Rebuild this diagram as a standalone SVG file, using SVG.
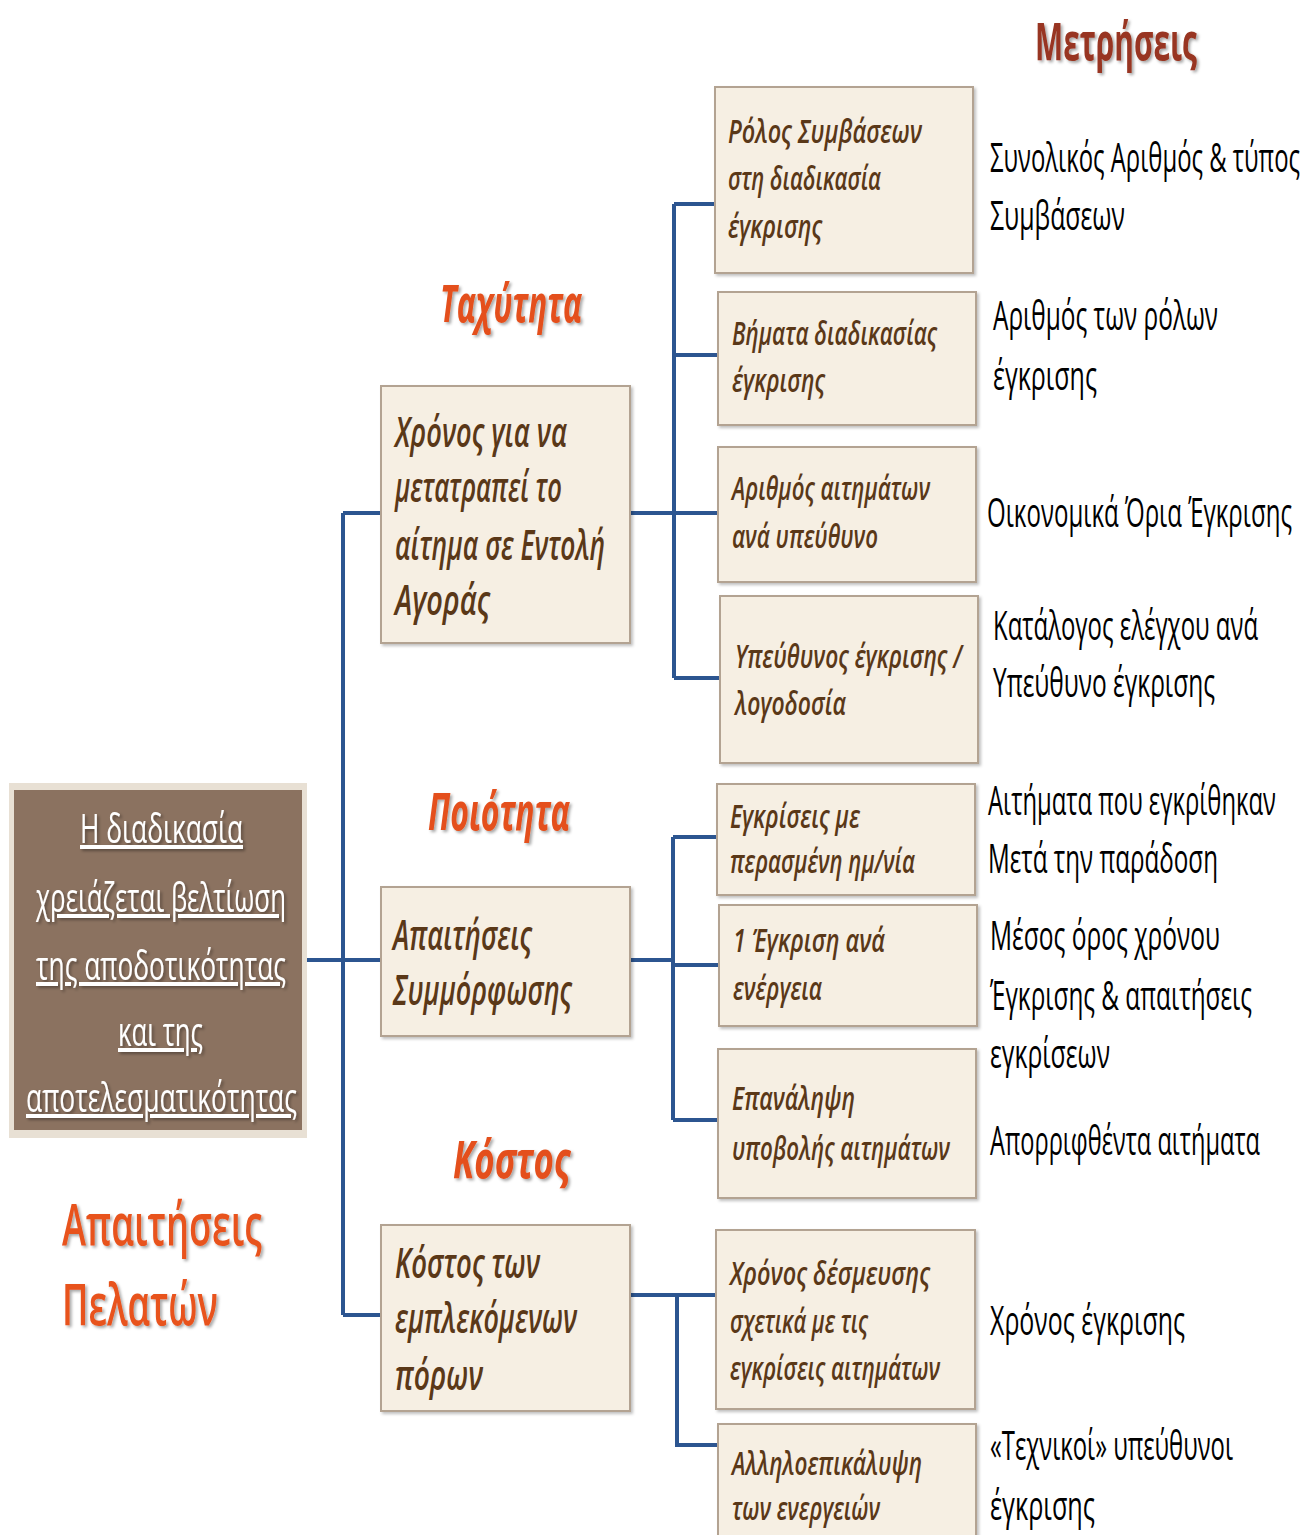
<svg xmlns="http://www.w3.org/2000/svg" width="1316" height="1535" viewBox="0 0 1316 1535">
<defs>
<filter id="sh" x="-10%" y="-10%" width="130%" height="130%">
<feDropShadow dx="2" dy="2" stdDeviation="1.5" flood-color="#000" flood-opacity="0.35"/>
</filter>
<filter id="bsh" x="-5%" y="-5%" width="115%" height="115%">
<feDropShadow dx="2" dy="2" stdDeviation="1.5" flood-color="#000" flood-opacity="0.25"/>
</filter>
</defs>
<style>
.box{fill:#f6efe3;stroke:#b3a392;stroke-width:2;}
.bt{font-family:"Open Sans","Noto Sans",sans-serif;font-style:italic;font-weight:600;fill:#5a3818;}
.s{font-size:33px;}
.m{font-size:41px;}
.met{font-family:"Open Sans","Noto Sans",sans-serif;font-size:41px;font-weight:500;fill:#000;}
.hd{font-family:"Open Sans","Noto Sans",sans-serif;font-weight:bold;font-style:italic;font-size:52px;fill:#e4501c;}
.lt{font-family:"Open Sans","Noto Sans",sans-serif;font-size:40px;fill:#fff;text-decoration:underline;}
.con{fill:none;stroke:#2c5590;stroke-width:4;}
</style>

<g id="connectors">
<path class="con" d="M306 960 H382 M343 513 V1315 M343 513 H382 M343 1315 H382"/>
<path class="con" d="M630 513 H718 M674 204 V678 M674 204 H715 M674 355 H718 M674 678 H720"/>
<path class="con" d="M630 960 H674 M673 837 V1120 M673 837 H717 M673 965 H719 M673 1120 H718"/>
<path class="con" d="M630 1295 H716 M677 1295 V1445 H720"/>
</g>

<g id="title-metrics">
<text x="1035" y="60" class="hd" style="font-style:normal;fill:#983520;" textLength="162" lengthAdjust="spacingAndGlyphs" filter="url(#sh)">Μετρήσεις</text>
</g>

<g id="root">
<rect x="9" y="783" width="298" height="355" fill="#e8e0d4"/>
<rect x="14" y="790" width="288" height="340" fill="#8b7260"/>
<g filter="url(#sh)">
<text x="80" y="843" class="lt" textLength="163" lengthAdjust="spacingAndGlyphs">Η διαδικασία</text>
<text x="36" y="912" class="lt" textLength="250" lengthAdjust="spacingAndGlyphs">χρειάζεται βελτίωση</text>
<text x="36" y="980" class="lt" textLength="250" lengthAdjust="spacingAndGlyphs">της αποδοτικότητας</text>
<text x="118" y="1046" class="lt" textLength="85" lengthAdjust="spacingAndGlyphs">και της</text>
<text x="26" y="1112" class="lt" textLength="271" lengthAdjust="spacingAndGlyphs">αποτελεσματικότητας</text>
</g>
</g>

<g id="customer-req" filter="url(#sh)">
<text x="62" y="1245" class="hd" style="font-style:normal;font-weight:600;font-size:58px;fill:#e8521e;" textLength="200" lengthAdjust="spacingAndGlyphs">Απαιτήσεις</text>
<text x="62" y="1325" class="hd" style="font-style:normal;font-weight:600;font-size:58px;fill:#e8521e;" textLength="156" lengthAdjust="spacingAndGlyphs">Πελατών</text>
</g>

<g id="heading-speed"><text x="440" y="322" class="hd" textLength="142" lengthAdjust="spacingAndGlyphs" filter="url(#sh)">Ταχύτητα</text></g>
<g id="heading-quality"><text x="428" y="830" class="hd" textLength="142" lengthAdjust="spacingAndGlyphs" filter="url(#sh)">Ποιότητα</text></g>
<g id="heading-cost"><text x="453" y="1178" class="hd" textLength="117" lengthAdjust="spacingAndGlyphs" filter="url(#sh)">Κόστος</text></g>

<g id="speed">
<rect class="box" x="381" y="386" width="249" height="257" filter="url(#bsh)"/>
<text class="bt m" x="395" y="447" textLength="172" lengthAdjust="spacingAndGlyphs">Χρόνος για να</text>
<text class="bt m" x="395" y="502" textLength="167" lengthAdjust="spacingAndGlyphs">μετατραπεί το</text>
<text class="bt m" x="395" y="560" textLength="210" lengthAdjust="spacingAndGlyphs">αίτημα σε Εντολή</text>
<text class="bt m" x="395" y="615" textLength="95" lengthAdjust="spacingAndGlyphs">Αγοράς</text>
</g>

<g id="quality">
<rect class="box" x="381" y="887" width="249" height="149" filter="url(#bsh)"/>
<text class="bt m" x="393" y="950" textLength="139" lengthAdjust="spacingAndGlyphs">Απαιτήσεις</text>
<text class="bt m" x="393" y="1005" textLength="179" lengthAdjust="spacingAndGlyphs">Συμμόρφωσης</text>
</g>

<g id="cost">
<rect class="box" x="381" y="1225" width="249" height="186" filter="url(#bsh)"/>
<text class="bt m" x="395" y="1278" textLength="145" lengthAdjust="spacingAndGlyphs">Κόστος των</text>
<text class="bt m" x="395" y="1333" textLength="182" lengthAdjust="spacingAndGlyphs">εμπλεκόμενων</text>
<text class="bt m" x="395" y="1390" textLength="88" lengthAdjust="spacingAndGlyphs">πόρων</text>
</g>

<g id="r1">
<rect class="box" x="715" y="87" width="258" height="186" filter="url(#bsh)"/>
<text class="bt s" x="728" y="143" textLength="194" lengthAdjust="spacingAndGlyphs">Ρόλος Συμβάσεων</text>
<text class="bt s" x="728" y="190" textLength="153" lengthAdjust="spacingAndGlyphs">στη διαδικασία</text>
<text class="bt s" x="728" y="238" textLength="94" lengthAdjust="spacingAndGlyphs">έγκρισης</text>
</g>
<g id="r2">
<rect class="box" x="718" y="292" width="258" height="133" filter="url(#bsh)"/>
<text class="bt s" x="732" y="345" textLength="205" lengthAdjust="spacingAndGlyphs">Βήματα διαδικασίας</text>
<text class="bt s" x="732" y="392" textLength="93" lengthAdjust="spacingAndGlyphs">έγκρισης</text>
</g>
<g id="r3">
<rect class="box" x="718" y="447" width="258" height="135" filter="url(#bsh)"/>
<text class="bt s" x="732" y="500" textLength="198" lengthAdjust="spacingAndGlyphs">Αριθμός αιτημάτων</text>
<text class="bt s" x="732" y="548" textLength="146" lengthAdjust="spacingAndGlyphs">ανά υπεύθυνο</text>
</g>
<g id="r4">
<rect class="box" x="720" y="596" width="258" height="167" filter="url(#bsh)"/>
<text class="bt s" x="735" y="668" textLength="227" lengthAdjust="spacingAndGlyphs">Υπεύθυνος έγκρισης /</text>
<text class="bt s" x="735" y="715" textLength="111" lengthAdjust="spacingAndGlyphs">λογοδοσία</text>
</g>
<g id="r5">
<rect class="box" x="717" y="784" width="258" height="111" filter="url(#bsh)"/>
<text class="bt s" x="730" y="828" textLength="130" lengthAdjust="spacingAndGlyphs">Εγκρίσεις με</text>
<text class="bt s" x="730" y="873" textLength="185" lengthAdjust="spacingAndGlyphs">περασμένη ημ/νία</text>
</g>
<g id="r6">
<rect class="box" x="719" y="905" width="258" height="121" filter="url(#bsh)"/>
<text class="bt s" x="733" y="952" textLength="152" lengthAdjust="spacingAndGlyphs">1 Έγκριση ανά</text>
<text class="bt s" x="733" y="1000" textLength="89" lengthAdjust="spacingAndGlyphs">ενέργεια</text>
</g>
<g id="r7">
<rect class="box" x="718" y="1049" width="258" height="149" filter="url(#bsh)"/>
<text class="bt s" x="732" y="1110" textLength="123" lengthAdjust="spacingAndGlyphs">Επανάληψη</text>
<text class="bt s" x="732" y="1160" textLength="218" lengthAdjust="spacingAndGlyphs">υποβολής αιτημάτων</text>
</g>
<g id="r8">
<rect class="box" x="716" y="1230" width="259" height="179" filter="url(#bsh)"/>
<text class="bt s" x="730" y="1285" textLength="200" lengthAdjust="spacingAndGlyphs">Χρόνος δέσμευσης</text>
<text class="bt s" x="730" y="1333" textLength="138" lengthAdjust="spacingAndGlyphs">σχετικά με τις</text>
<text class="bt s" x="730" y="1380" textLength="210" lengthAdjust="spacingAndGlyphs">εγκρίσεις αιτημάτων</text>
</g>
<g id="r9">
<rect class="box" x="718" y="1424" width="258" height="130" filter="url(#bsh)"/>
<text class="bt s" x="732" y="1475" textLength="190" lengthAdjust="spacingAndGlyphs">Αλληλοεπικάλυψη</text>
<text class="bt s" x="732" y="1520" textLength="148" lengthAdjust="spacingAndGlyphs">των ενεργειών</text>
</g>

<g id="metrics">
<text class="met" x="990" y="172" textLength="310" lengthAdjust="spacingAndGlyphs">Συνολικός Αριθμός &amp; τύπος</text>
<text class="met" x="990" y="230" textLength="135" lengthAdjust="spacingAndGlyphs">Συμβάσεων</text>
<text class="met" x="993" y="330" textLength="225" lengthAdjust="spacingAndGlyphs">Αριθμός των ρόλων</text>
<text class="met" x="993" y="390" textLength="104" lengthAdjust="spacingAndGlyphs">έγκρισης</text>
<text class="met" x="987" y="527" textLength="305" lengthAdjust="spacingAndGlyphs">Οικονομικά Όρια Έγκρισης</text>
<text class="met" x="993" y="640" textLength="265" lengthAdjust="spacingAndGlyphs">Κατάλογος ελέγχου ανά</text>
<text class="met" x="993" y="697" textLength="222" lengthAdjust="spacingAndGlyphs">Υπεύθυνο έγκρισης</text>
<text class="met" x="988" y="815" textLength="288" lengthAdjust="spacingAndGlyphs">Αιτήματα που εγκρίθηκαν</text>
<text class="met" x="988" y="873" textLength="230" lengthAdjust="spacingAndGlyphs">Μετά την παράδοση</text>
<text class="met" x="990" y="950" textLength="230" lengthAdjust="spacingAndGlyphs">Μέσος όρος χρόνου</text>
<text class="met" x="990" y="1010" textLength="262" lengthAdjust="spacingAndGlyphs">Έγκρισης &amp; απαιτήσεις</text>
<text class="met" x="990" y="1068" textLength="120" lengthAdjust="spacingAndGlyphs">εγκρίσεων</text>
<text class="met" x="990" y="1155" textLength="270" lengthAdjust="spacingAndGlyphs">Απορριφθέντα αιτήματα</text>
<text class="met" x="990" y="1335" textLength="195" lengthAdjust="spacingAndGlyphs">Χρόνος έγκρισης</text>
<text class="met" x="990" y="1460" textLength="243" lengthAdjust="spacingAndGlyphs">«Τεχνικοί» υπεύθυνοι</text>
<text class="met" x="990" y="1520" textLength="105" lengthAdjust="spacingAndGlyphs">έγκρισης</text>
</g>
</svg>
